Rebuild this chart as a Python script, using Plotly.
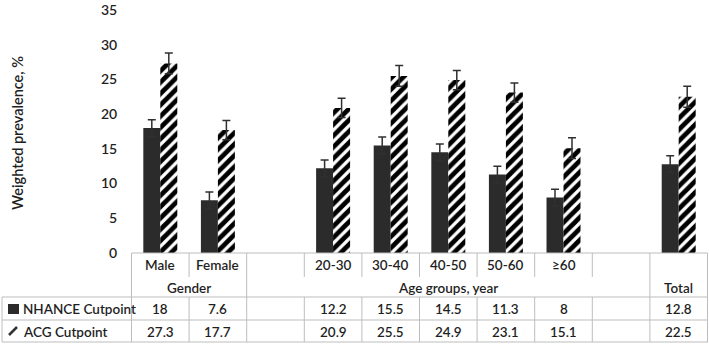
import plotly.graph_objects as go

# ---- data ----
x_keys = ["Male", "Female", "gap1", "20-30", "30-40", "40-50", "50-60", "≥60", "gap2", "Total"]
cat_labels = ["Male", "Female", "", "20-30", "30-40", "40-50", "50-60", "≥60", "", ""]
nhance = [18, 7.6, None, 12.2, 15.5, 14.5, 11.3, 8, None, 12.8]
acg = [27.3, 17.7, None, 20.9, 25.5, 24.9, 23.1, 15.1, None, 22.5]
nhance_err = [1.2, 1.2, None, 1.2, 1.2, 1.2, 1.2, 1.2, None, 1.2]
acg_err = [1.5, 1.4, None, 1.4, 1.5, 1.4, 1.4, 1.5, None, 1.5]
groups = [("Gender", 0.5), ("Age groups, year", 5.0), ("Total", 9.0)]
series_names = ["NHANCE Cutpoint", "ACG Cutpoint"]
y_title = "Weighted prevalence, %"

W, H = 709, 344
L, R, T, B = 131, 1, 10, 91
PH = H - T - B
PW = W - L - R

def py(pix):
    return (H - B - pix) / PH

def px(pix):
    return (pix - L) / PW

FONT = "Lato"
TXT = "#1f1f1f"
GRID = "#bdbdbd"
DARK = "#2b2b2b"

fig = go.Figure()
fig.add_trace(go.Bar(
    x=x_keys, y=nhance, name=series_names[0],
    marker=dict(color=DARK, line=dict(width=0)),
    error_y=dict(type="data", array=nhance_err, color="#303030", thickness=1.5, width=4),
))
fig.add_trace(go.Bar(
    x=x_keys, y=acg, name=series_names[1],
    marker=dict(color="white", line=dict(width=0),
                pattern=dict(shape="/", fgcolor="#000000", fgopacity=1, bgcolor="white", size=8, solidity=0.6)),
    error_y=dict(type="data", array=acg_err, color="#303030", thickness=1.5, width=4),
))

shapes = []
def line(x0, y0, x1, y1, xref="x"):
    shapes.append(dict(type="line", xref=xref, yref="paper", x0=x0, x1=x1, y0=y0, y1=y1,
                       line=dict(color=GRID, width=1)))

n = len(x_keys)
line(-0.5, 0, n - 0.5, 0)
for pix in (297, 320, 342):
    shapes.append(dict(type="line", xref="paper", yref="paper", x0=px(2), x1=1, y0=py(pix), y1=py(pix),
                       line=dict(color=GRID, width=1)))
for b in (-0.5, 1.5, 8.5, 9.5):
    line(b, 0, b, py(297))
for b in (0.5, 2.5, 3.5, 4.5, 5.5, 6.5, 7.5):
    line(b, 0, b, py(277))
for i in range(n + 1):
    line(i - 0.5, py(297), i - 0.5, py(342))
shapes.append(dict(type="line", xref="paper", yref="paper", x0=px(2), x1=px(2), y0=py(297), y1=py(342),
                   line=dict(color=GRID, width=1)))
shapes.append(dict(type="rect", xref="paper", yref="paper", x0=px(8), x1=px(19), y0=py(314), y1=py(304),
                   fillcolor=DARK, line=dict(width=0)))
shapes.append(dict(type="line", xref="paper", yref="paper", x0=px(9), x1=px(17), y0=py(335), y1=py(327),
                   line=dict(color="#333333", width=2.5)))

ann = []
tf = dict(family=FONT, size=13.5, color=TXT, weight=600)
def add(x, y, text, xref="x", xanchor="center", font=tf, **kw):
    ann.append(dict(x=x, y=y, xref=xref, yref="paper", text=text, showarrow=False,
                    xanchor=xanchor, yanchor="middle", font=font, **kw))

for k, lab in zip(x_keys, cat_labels):
    if lab:
        add(k, py(265), lab)
for g, xc in groups:
    add(xc, py(288), g)
for row_vals, ypix in ((nhance, 309), (acg, 331.5)):
    for k, v in zip(x_keys, row_vals):
        if v is not None:
            add(k, py(ypix), f"{v:g}")
add(px(21), py(309), series_names[0], xref="paper", xanchor="left")
add(px(21), py(331.5), series_names[1], xref="paper", xanchor="left")
add(px(17), py(133), y_title, xref="paper", textangle=-90,
    font=dict(family=FONT, size=14.5, color=TXT, weight=600))

fig.update_layout(
    width=W, height=H, margin=dict(l=L, r=R, t=T, b=B),
    paper_bgcolor="white", plot_bgcolor="white",
    barmode="group", bargap=0.41, bargroupgap=0,
    showlegend=False, shapes=shapes, annotations=ann,
    font=dict(family=FONT, color=TXT),
)
fig.update_xaxes(showticklabels=False, showgrid=False, zeroline=False, showline=False, ticks="")
fig.update_yaxes(range=[0, 35], dtick=5, showgrid=False, zeroline=False, showline=False,
                 ticks="outside", ticklen=10, tickcolor="rgba(0,0,0,0)",
                 tickfont=dict(family=FONT, size=14, color=TXT, weight=600))

fig.write_html("out.html", config={"displayModeBar": False},
               post_script="document.body.style.margin='0';document.body.style.overflow='hidden';")
